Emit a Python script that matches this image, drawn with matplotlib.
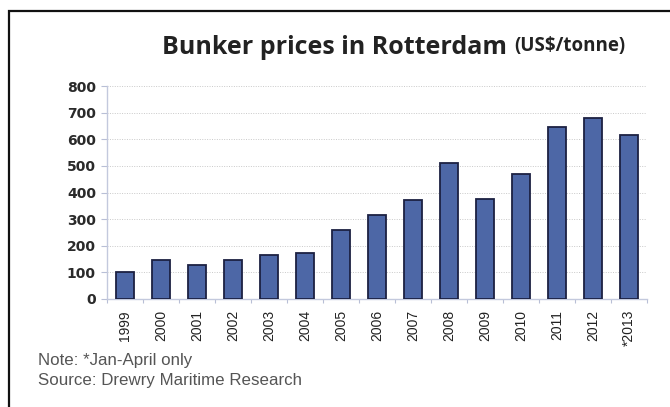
import matplotlib
matplotlib.use("Agg")
import matplotlib.pyplot as plt
from matplotlib.patches import Rectangle

years = ["1999", "2000", "2001", "2002", "2003", "2004", "2005", "2006",
         "2007", "2008", "2009", "2010", "2011", "2012", "*2013"]
prices = [100, 148, 129, 145, 165, 172, 260, 317,
          370, 510, 375, 470, 647, 679, 616]
yticks = [0, 100, 200, 300, 400, 500, 600, 700, 800]

fig = plt.figure(figsize=(6.7, 4.07), dpi=100)
ax = fig.add_axes([107 / 670, 1 - 299 / 407, 540 / 670, 213 / 407])

x = list(range(len(years)))
ax.bar(x, prices, width=0.48, color="#4d67a6", edgecolor="#1c2142", linewidth=1.3, zorder=3)

ax.set_xlim(-0.5, len(years) - 0.5)
ax.set_ylim(0, 800)
ax.set_yticks(yticks)
ax.set_yticklabels([str(v) for v in yticks], fontsize=10, fontweight="bold",
                   color="#2a2a2a", family="DejaVu Sans")
ax.set_xticks(x)
ax.set_xticklabels(years, rotation=90, fontsize=10, color="#222222", family="Liberation Sans")
ax.set_xticks([i - 0.5 for i in range(len(years) + 1)], minor=True)
ax.tick_params(axis="x", which="major", length=0, pad=8)
ax.tick_params(axis="x", which="minor", length=3, color="#b8bfd6", width=0.8)
ax.tick_params(axis="y", length=4, color="#b8bfd6", width=0.8, pad=4)

ax.grid(axis="y", linestyle=(0, (1, 1.5)), color="#c9c9c9", linewidth=0.7, zorder=0)
for side in ["top", "right"]:
    ax.spines[side].set_visible(False)
for side in ["left", "bottom"]:
    ax.spines[side].set_color("#c3c9dd")
    ax.spines[side].set_linewidth(1.0)

# title in two parts
t1 = fig.text(162 / 670, 1 - 48 / 407, "Bunker prices in Rotterdam", fontsize=18,
              fontweight="bold", family="Open Sans", color="#222222", va="center", ha="left")
ax.annotate("(US$/tonne)", xy=(1, 0), xycoords=t1, xytext=(5, 3.5), textcoords="offset points",
            fontsize=13.5, fontweight="bold", family="Open Sans", color="#222222",
            va="bottom", ha="left")

fig.text(38 / 670, 1 - 361 / 407, "Note: *Jan-April only", fontsize=12.2,
         family="Liberation Sans", color="#555555", va="center", ha="left")
fig.text(38 / 670, 1 - 380 / 407, "Source: Drewry Maritime Research", fontsize=12.2,
         family="Liberation Sans", color="#555555", va="center", ha="left")

# frame around the chart (only left and top sides are inside the picture)
fig.patches.append(Rectangle((9 / 670, -0.1), 1.2, 0.1 + 1 - 11 / 407, transform=fig.transFigure,
                             fill=False, edgecolor="#111111", linewidth=1.6))

fig.savefig("out.png", dpi=100)
